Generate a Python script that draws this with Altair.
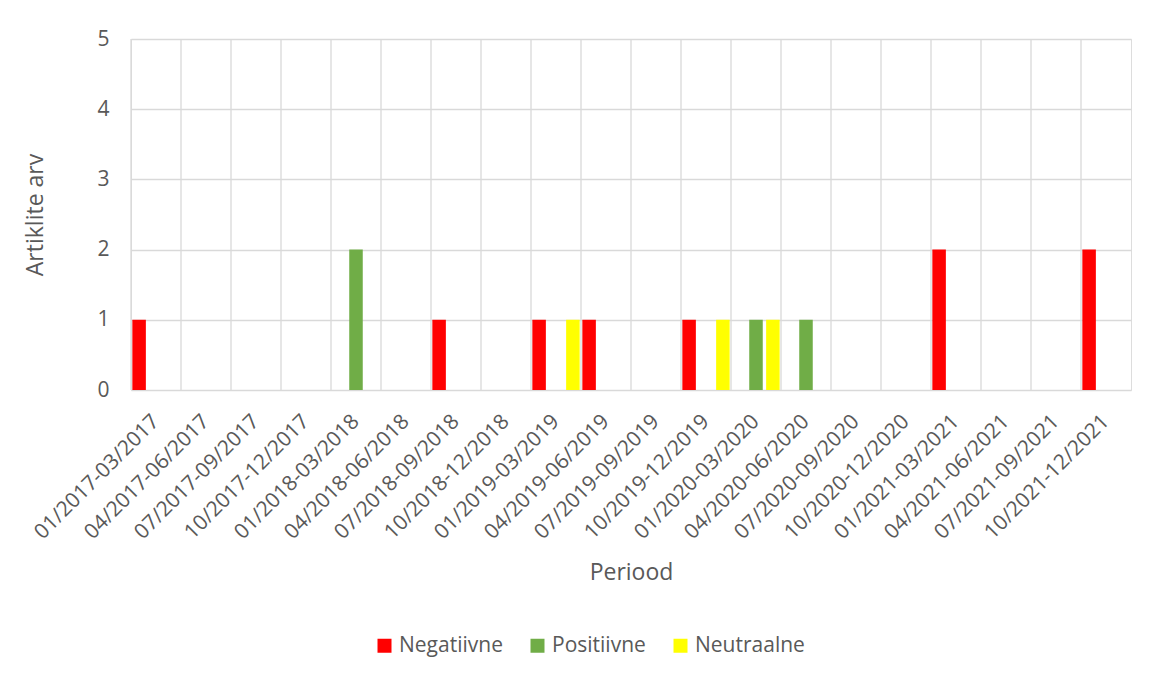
import altair as alt
import pandas as pd

categories = [
    "01/2017-03/2017", "04/2017-06/2017", "07/2017-09/2017", "10/2017-12/2017",
    "01/2018-03/2018", "04/2018-06/2018", "07/2018-09/2018", "10/2018-12/2018",
    "01/2019-03/2019", "04/2019-06/2019", "07/2019-09/2019", "10/2019-12/2019",
    "01/2020-03/2020", "04/2020-06/2020", "07/2020-09/2020", "10/2020-12/2020",
    "01/2021-03/2021", "04/2021-06/2021", "07/2021-09/2021", "10/2021-12/2021",
]
series_names = ["Negatiivne", "Positiivne", "Neutraalne"]
negatiivne = [1, 0, 0, 0, 0, 0, 1, 0, 1, 1, 0, 1, 0, 0, 0, 0, 2, 0, 0, 2]
positiivne = [0, 0, 0, 0, 2, 0, 0, 0, 0, 0, 0, 0, 1, 1, 0, 0, 0, 0, 0, 0]
neutraalne = [0, 0, 0, 0, 0, 0, 0, 0, 1, 0, 0, 1, 1, 0, 0, 0, 0, 0, 0, 0]
y_ticks = [0, 1, 2, 3, 4, 5]
colors = ["#FF0000", "#70AD47", "#FFFF00"]

rows = []
for name, vals in zip(series_names, [negatiivne, positiivne, neutraalne]):
    for c, v in zip(categories, vals):
        rows.append({"Periood": c, "Seeria": name, "Arv": v})
df = pd.DataFrame(rows)
cat_df = pd.DataFrame({"Periood": categories})

FONT = "Open Sans"
TXT = "#595959"
GRID = "#D9D9D9"
W, H = 1000, 351

xscale = alt.Scale(domain=categories, paddingInner=0, paddingOuter=0)

grid = alt.Chart(cat_df).mark_rule(color=GRID, strokeWidth=1.3).encode(
    x=alt.X("Periood:N", scale=xscale, sort=categories, bandPosition=0,
            axis=alt.Axis(title="Periood", labelAngle=-45, labelAlign="right",
                          labelBaseline="middle", labelPadding=28,
                          labelFontSize=21, labelColor=TXT, labelFont=FONT,
                          titleFontSize=23, titleColor=TXT, titleFont=FONT,
                          titleFontWeight="normal", titleY=182, titleBaseline="middle",
                          domain=False, ticks=False, grid=False, labelOverlap=False)),
    y=alt.value(0),
    y2=alt.value(H),
)

bars = alt.Chart(df).mark_bar().encode(
    x=alt.X("Periood:N", scale=xscale, sort=categories),
    xOffset=alt.XOffset("Seeria:N", sort=series_names,
                        scale=alt.Scale(domain=series_names, paddingInner=0.2, paddingOuter=0.08)),
    y=alt.Y("Arv:Q", scale=alt.Scale(domain=[0, 5], nice=False),
            axis=alt.Axis(title="Artiklite arv", values=y_ticks, labelOverlap=False,
                          labelFontSize=21, labelColor=TXT, labelFont=FONT, labelPadding=22,
                          titleFontSize=23, titleColor=TXT, titleFont=FONT,
                          titleFontWeight="normal", titleX=-96, titleY=H / 2,
                          titleAlign="center", titleBaseline="middle", titleAngle=-90,
                          domain=False, ticks=False, grid=True, gridColor=GRID,
                          gridWidth=1.3)),
    color=alt.Color("Seeria:N", sort=series_names,
                    scale=alt.Scale(domain=series_names, range=colors),
                    legend=alt.Legend(title=None, orient="none", direction="horizontal",
                                      legendX=243, legendY=596, symbolType="square",
                                      symbolSize=196, symbolStrokeWidth=0,
                                      labelFontSize=21, labelColor=TXT, labelFont=FONT,
                                      labelOffset=4, columnPadding=24)),
)

chart = alt.layer(grid, bars).properties(
    width=W, height=H,
    autosize=alt.AutoSizeParams(type="none"),
    padding={"left": 123, "top": 31, "right": 13, "bottom": 270},
).configure_view(stroke=GRID, strokeWidth=1.3).configure(background="white")

chart.save("out.html", embed_options={"renderer": "svg", "actions": False})
